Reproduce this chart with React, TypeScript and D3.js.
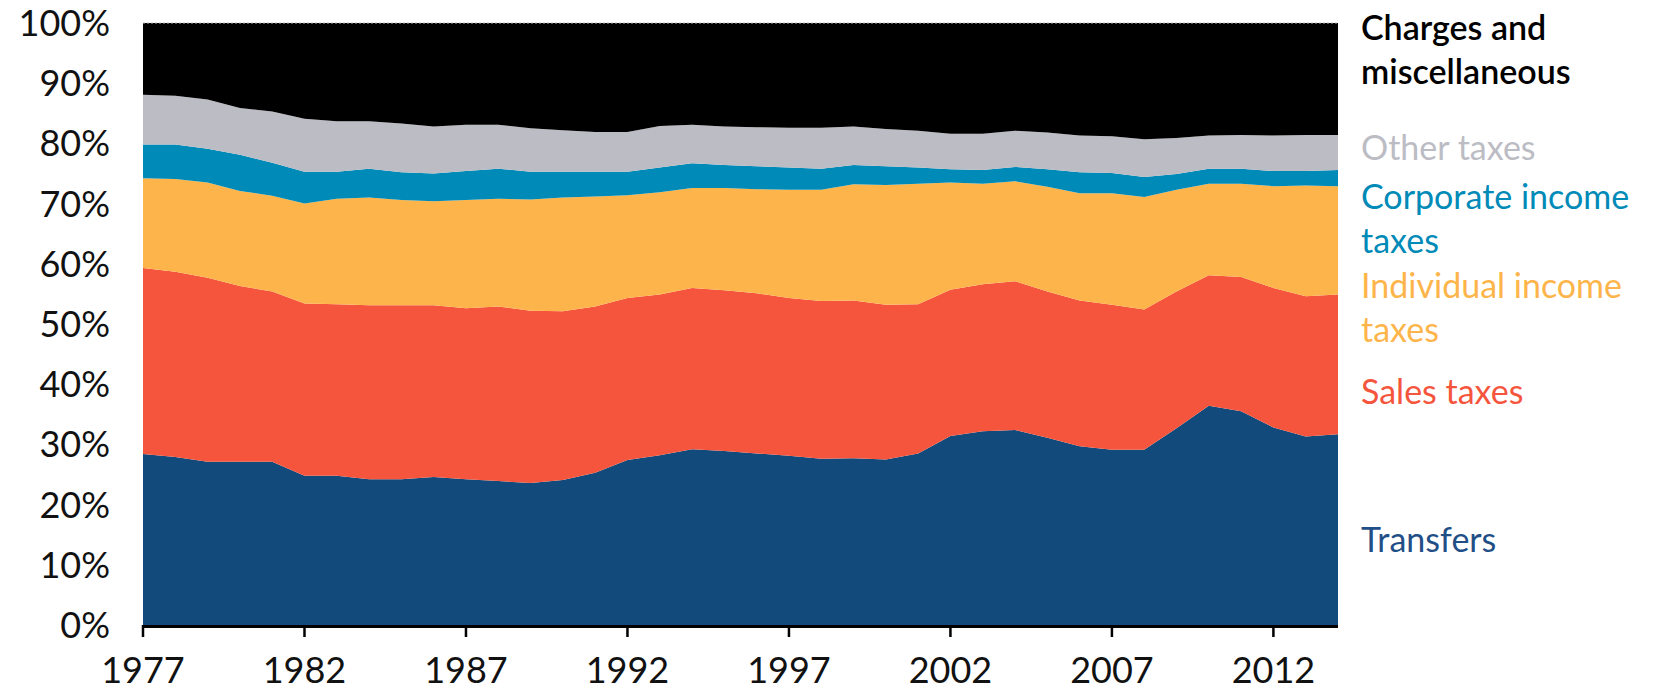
import React from 'react';
import * as d3 from 'd3';

const years = d3.range(1977, 2015);

// shares of revenue, percent
const transfers = [28.4, 27.9, 27.1, 27.1, 27.1, 24.8, 24.8, 24.2, 24.2, 24.6, 24.2, 23.9, 23.6, 24.1, 25.3, 27.4, 28.2, 29.2, 28.9, 28.5, 28.1, 27.6, 27.7, 27.5, 28.5, 31.4, 32.2, 32.4, 31.1, 29.7, 29.1, 29.1, 32.7, 36.4, 35.5, 32.8, 31.3, 31.7];
const salesTaxes = [30.9, 30.8, 30.6, 29.2, 28.3, 28.6, 28.5, 28.9, 28.9, 28.5, 28.4, 29.0, 28.6, 28.0, 27.6, 26.9, 26.7, 26.8, 26.7, 26.6, 26.2, 26.2, 26.2, 25.7, 24.8, 24.3, 24.4, 24.7, 24.3, 24.2, 24.1, 23.3, 22.7, 21.7, 22.3, 23.2, 23.3, 23.2];
const individualIncome = [14.9, 15.4, 15.8, 15.8, 15.9, 16.6, 17.5, 17.9, 17.5, 17.3, 18.0, 17.9, 18.5, 18.9, 18.3, 17.1, 17.0, 16.6, 17.0, 17.3, 18.0, 18.5, 19.3, 19.9, 20.0, 17.8, 16.7, 16.6, 17.4, 17.8, 18.5, 18.7, 16.9, 15.2, 15.5, 16.9, 18.4, 18.0];
const corporateIncome = [5.6, 5.7, 5.6, 6.0, 5.5, 5.3, 4.5, 4.8, 4.6, 4.6, 4.8, 5.0, 4.6, 4.3, 4.1, 3.9, 4.1, 4.1, 3.8, 3.8, 3.7, 3.5, 3.2, 3.1, 2.7, 2.2, 2.3, 2.4, 2.9, 3.5, 3.4, 3.3, 2.6, 2.5, 2.5, 2.5, 2.4, 2.7];
const otherTaxes = [8.3, 8.1, 8.2, 7.8, 8.5, 8.8, 8.4, 7.9, 8.1, 7.8, 7.7, 7.3, 7.2, 6.9, 6.6, 6.6, 6.9, 6.4, 6.4, 6.5, 6.6, 6.8, 6.4, 6.2, 6.1, 5.9, 6.0, 6.0, 6.1, 6.1, 6.1, 6.3, 6.0, 5.5, 5.6, 5.9, 6.0, 5.8];
const charges = [11.9, 12.1, 12.7, 14.1, 14.7, 15.9, 16.3, 16.3, 16.7, 17.2, 16.9, 16.9, 17.5, 17.8, 18.1, 18.1, 17.1, 16.9, 17.2, 17.3, 17.4, 17.4, 17.2, 17.6, 17.9, 18.4, 18.4, 17.9, 18.2, 18.7, 18.8, 19.3, 19.1, 18.7, 18.6, 18.7, 18.6, 18.6];

const yTicks = [0, 10, 20, 30, 40, 50, 60, 70, 80, 90, 100];
const xTicks = [1977, 1982, 1987, 1992, 1997, 2002, 2007, 2012];

const series = [
  { key: 'transfers', values: transfers, color: '#124a7c', text: '#1f4f86', lines: ['Transfers'], y: 552, weight: 400 },
  { key: 'sales', values: salesTaxes, color: '#f5553c', text: '#f5553c', lines: ['Sales taxes'], y: 404, weight: 400 },
  { key: 'individual', values: individualIncome, color: '#fdb54b', text: '#fdb54b', lines: ['Individual income', 'taxes'], y: 298, weight: 400 },
  { key: 'corporate', values: corporateIncome, color: '#008ab7', text: '#008ab7', lines: ['Corporate income', 'taxes'], y: 209, weight: 400 },
  { key: 'other', values: otherTaxes, color: '#bcbcc4', text: '#bcbcc4', lines: ['Other taxes'], y: 160, weight: 400 },
  { key: 'charges', values: charges, color: '#000000', text: '#000000', lines: ['Charges and', 'miscellaneous'], y: 40, weight: 600 },
];

const W = 1675;
const H = 694;
const margin = { left: 143, right: 1338, top: 23, bottom: 625 };
const font = 'Lato, "Open Sans", sans-serif';

export default function App() {
  const x = d3.scaleLinear().domain([1977, 2014]).range([margin.left, margin.right]);
  const y = d3.scaleLinear().domain([0, 100]).range([margin.bottom, margin.top]);

  const table = years.map((yr, i) => {
    const row: any = { year: yr };
    series.forEach((s) => (row[s.key] = s.values[i]));
    return row;
  });
  const stacked = d3.stack().keys(series.map((s) => s.key))(table);
  // normalise to 100% like the source chart
  const totals = table.map((r) => series.reduce((a, s) => a + r[s.key], 0));

  const area = d3
    .area<any>()
    .x((d, i) => x(years[i]))
    .y0((d, i) => y((d[0] / totals[i]) * 100))
    .y1((d, i) => y((d[1] / totals[i]) * 100));

  return (
    <div style={{ position: 'absolute', left: 0, top: 0 }}>
      <svg width={W} height={H} style={{ display: 'block', fontFamily: font }}>
        <rect width={W} height={H} fill="#fff" />
        {stacked.map((layer, i) => (
          <path key={series[i].key} d={area(layer as any) || ''} fill={series[i].color} />
        ))}
        <line x1={margin.left} x2={margin.right} y1={y(100)} y2={y(100)} stroke="#bbb" strokeDasharray="2,2" strokeWidth={1} />
        <line x1={margin.left} x2={margin.right} y1={y(0) + 1.5} y2={y(0) + 1.5} stroke="#000" strokeWidth={3} />
        {xTicks.map((t) => (
          <g key={t} transform={`translate(${x(t)},0)`}>
            <line y1={y(0)} y2={y(0) + 12} stroke="#000" strokeWidth={2.5} />
            <text y={683} textAnchor="middle" fontSize={36} fill="#111">
              {t}
            </text>
          </g>
        ))}
        {yTicks.map((t) => (
          <text key={t} x={110} y={y(t)} dy="0.36em" textAnchor="end" fontSize={36} fill="#111">
            {t}%
          </text>
        ))}
        {series.map((s) => (
          <text key={s.key} x={1361} y={s.y} fontSize={34} fill={s.text} fontWeight={s.weight}>
            {s.lines.map((l, j) => (
              <tspan key={j} x={1361} dy={j === 0 ? 0 : 44}>
                {l}
              </tspan>
            ))}
          </text>
        ))}
      </svg>
    </div>
  );
}
